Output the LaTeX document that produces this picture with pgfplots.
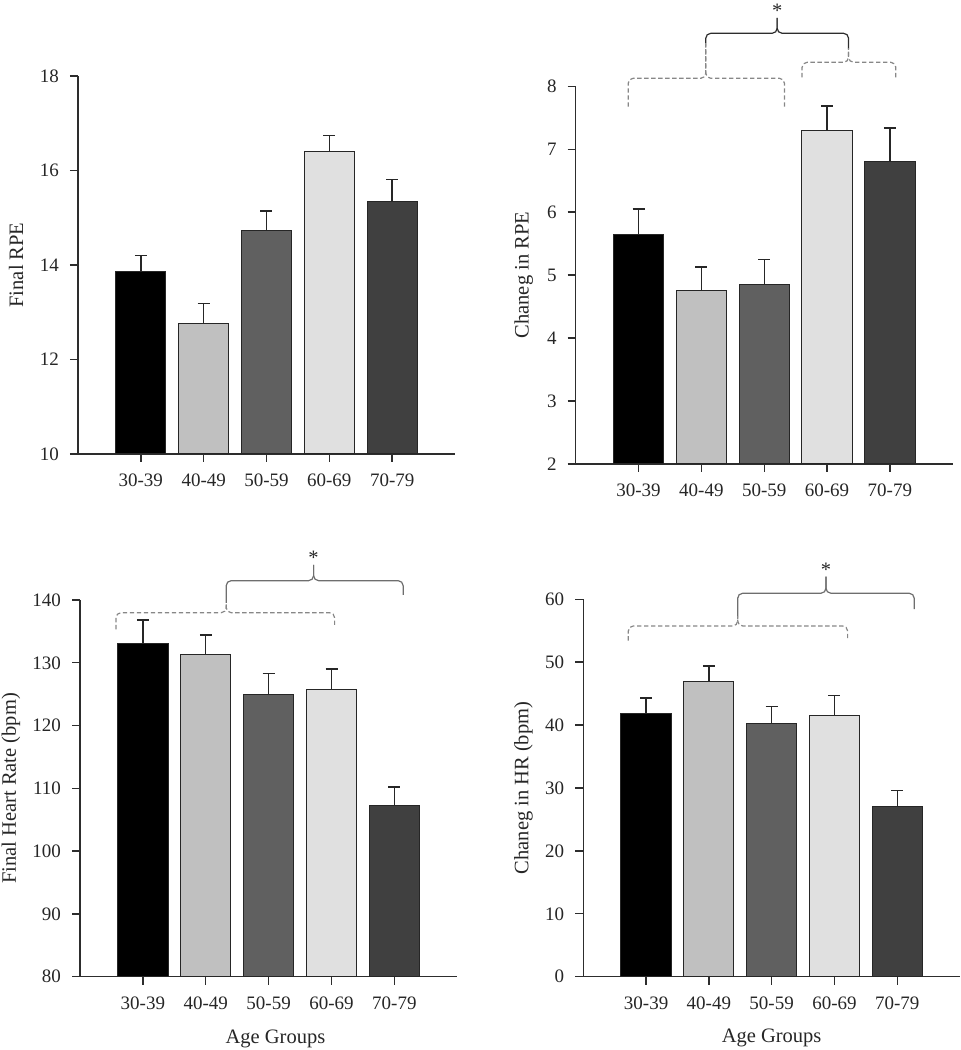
\documentclass[border=0pt]{standalone}
\usepackage{pgfplots}
\pgfplotsset{compat=1.18}
\usepackage{fontspec}
\setmainfont{Liberation Serif}
\definecolor{cA}{RGB}{0,0,0}
\definecolor{cB}{RGB}{192,192,192}
\definecolor{cC}{RGB}{96,96,96}
\definecolor{cD}{RGB}{224,224,224}
\definecolor{cE}{RGB}{64,64,64}
\definecolor{axisgray}{RGB}{45,45,45}
\definecolor{dashgray}{RGB}{135,135,135}
\definecolor{solidgray}{RGB}{110,110,110}
\pgfplotsset{
  panel/.style={
    scale only axis, anchor=south west,
    xmin=0, xmax=6,
    axis x line=bottom, axis y line=left,
    axis line style={-, line width=0.7pt, draw=axisgray},
    tick style={line width=0.7pt, draw=axisgray},
    tick align=outside, major tick length=4pt,
    xtick={1,2,3,4,5}, xticklabels={30-39,40-49,50-59,60-69,70-79},
    ticklabel style={font=\fontsize{9.5}{11}\selectfont, text=black!85},
    xticklabel style={yshift=-2.3pt},
    yticklabel style={xshift=-2pt},
    /pgf/number format/assume math mode=true,
    label style={font=\fontsize{10.25}{12}\selectfont, text=black!85},
    clip=false,
  },
  mybar/.style={ybar, bar width=0.8, bar shift=0pt, fill=#1, draw=black!85, line width=0.5pt,
    error bars/.cd, y dir=plus, y explicit, error mark=|,
    error bar style={line width=0.7pt, draw=black!85},
    error mark options={line width=0.7pt, mark size=3pt, draw=black!85}},
}
\tikzset{
  dbr/.style={draw=dashgray, line width=0.6pt, dash pattern=on 2.2pt off 1.3pt, rounded corners=2.5pt},
  sbr/.style={draw=#1, line width=0.6pt, rounded corners=2.5pt},
}
% bracket: style, x1, yb1, x2, yb2, xm, yh, ycusp
\newcommand{\brk}[8]{%
  \draw[#1] (axis cs:#2,#3) |- (axis cs:#6,#7) -- (axis cs:#6,#8);
  \draw[#1] (axis cs:#4,#5) |- (axis cs:#6,#7) -- (axis cs:#6,#8);
}
\newcommand{\sigstar}[2]{\node[anchor=south, inner sep=0pt, font=\fontsize{10.25}{12}\selectfont, text=black!85] at (axis cs:#1,#2) {*};}
\begin{document}
\begin{tikzpicture}
\useasboundingbox (0,0) rectangle (480.5pt,525pt);
% Panel 1
\begin{axis}[panel, at={(39pt,298pt)}, width=188.5pt, height=189pt,
  ymin=10, ymax=18, ytick={10,12,14,16,18},
  ylabel={Final RPE}, ylabel style={at={(axis description cs:-0.164,0.5)}, anchor=center}]
\addplot[mybar=cA] coordinates {(1,13.87) +- (0,0.33)};
\addplot[mybar=cB] coordinates {(2,12.77) +- (0,0.41)};
\addplot[mybar=cC] coordinates {(3,14.74) +- (0,0.40)};
\addplot[mybar=cD] coordinates {(4,16.40) +- (0,0.34)};
\addplot[mybar=cE] coordinates {(5,15.35) +- (0,0.46)};
\end{axis}
% Panel 2
\begin{axis}[panel, at={(287.85pt,293pt)}, width=188.5pt, height=188.85pt,
  ymin=2, ymax=8, ytick={2,3,4,5,6,7,8},
  ylabel={Chaneg in RPE}, ylabel style={at={(axis description cs:-0.138,0.5)}, anchor=center}]
\addplot[mybar=cA] coordinates {(1,5.64) +- (0,0.41)};
\addplot[mybar=cB] coordinates {(2,4.75) +- (0,0.38)};
\addplot[mybar=cC] coordinates {(3,4.85) +- (0,0.40)};
\addplot[mybar=cD] coordinates {(4,7.29) +- (0,0.40)};
\addplot[mybar=cE] coordinates {(5,6.80) +- (0,0.54)};
\brk{dbr}{0.835}{7.676}{3.322}{7.676}{2.07}{8.127}{8.688}
\brk{dbr}{3.603}{8.143}{5.095}{8.143}{4.343}{8.381}{8.608}
\brk{sbr=axisgray}{2.07}{8.688}{4.343}{8.608}{3.206}{8.842}{9.085}
\sigstar{3.206}{9.085}
\end{axis}
% Panel 3
\begin{axis}[panel, at={(40pt,36.65pt)}, width=188.65pt, height=188.35pt,
  ymin=80, ymax=140, ytick={80,90,...,140},
  ylabel={Final Heart Rate (bpm)}, ylabel style={at={(axis description cs:-0.183,0.5)}, anchor=center},
  xlabel={Age Groups}, xlabel style={at={(axis description cs:0.518,-0.165)}, anchor=center}]
\addplot[mybar=cA] coordinates {(1,133.1) +- (0,3.7)};
\addplot[mybar=cB] coordinates {(2,131.4) +- (0,3.0)};
\addplot[mybar=cC] coordinates {(3,124.9) +- (0,3.4)};
\addplot[mybar=cD] coordinates {(4,125.8) +- (0,3.2)};
\addplot[mybar=cE] coordinates {(5,107.2) +- (0,3.0)};
\brk{dbr}{0.573}{135.34}{4.049}{136.02}{2.325}{137.98}{139.53}
\brk{sbr=solidgray}{2.325}{139.53}{5.139}{140.80}{3.715}{143.08}{145.58}
\sigstar{3.715}{145.58}
\end{axis}
% Panel 4
\begin{axis}[panel, at={(291.65pt,36.65pt)}, width=188.35pt, height=188.7pt,
  ymin=0, ymax=60, ytick={0,10,...,60},
  ylabel={Chaneg in HR (bpm)}, ylabel style={at={(axis description cs:-0.159,0.5)}, anchor=center},
  xlabel={Age Groups}, xlabel style={at={(axis description cs:0.5,-0.163)}, anchor=center}]
\addplot[mybar=cA] coordinates {(1,41.8) +- (0,2.5)};
\addplot[mybar=cB] coordinates {(2,46.9) +- (0,2.5)};
\addplot[mybar=cC] coordinates {(3,40.3) +- (0,2.7)};
\addplot[mybar=cD] coordinates {(4,41.6) +- (0,3.1)};
\addplot[mybar=cE] coordinates {(5,27.1) +- (0,2.5)};
\brk{dbr}{0.717}{53.43}{4.210}{53.81}{2.459}{55.76}{57.24}
\brk{sbr=solidgray}{2.459}{57.24}{5.271}{58.42}{3.865}{60.96}{63.60}
\sigstar{3.865}{63.60}
\end{axis}
\end{tikzpicture}
\end{document}
